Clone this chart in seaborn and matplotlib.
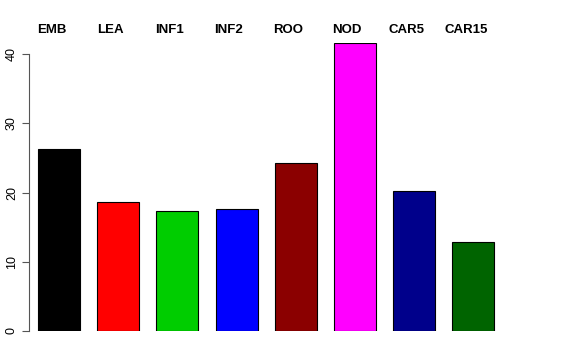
import pandas as pd
import numpy as np
import matplotlib
matplotlib.use('Agg')
import matplotlib.pyplot as plt
import matplotlib.transforms as mtransforms
import seaborn as sns

# datos
categories = ['EMB', 'LEA', 'INF1', 'INF2', 'ROO', 'NOD', 'CAR5', 'CAR15']
values = [26.3, 18.7, 17.4, 17.6, 24.2, 41.6, 20.2, 12.9]
colors = ['#000000', '#FF0000', '#00CD00', '#0000FF', '#8B0000', '#FF00FF', '#00008B', '#006400']
yticks = [0, 10, 20, 30, 40]

df = pd.DataFrame({'grupo': categories, 'valor': values})

sns.set_style('white')
plt.rcParams['font.family'] = ['Liberation Sans', 'DejaVu Sans']

W, H = 576, 360
fig = plt.figure(figsize=(W / 100, H / 100), dpi=100)
left, right, bottom, top = 29, 503, 29, 317
ax = fig.add_axes([left / W, bottom / H, (right - left) / W, (top - bottom) / H])

sns.barplot(data=df, x='grupo', y='valor', hue='grupo', palette=colors,
            legend=False, width=0.71, edgecolor='black', linewidth=0.8,
            saturation=1, ax=ax)

ax.set_xlim(-0.507, 7.5)
ax.set_ylim(0, 41.6)
ax.set_xlabel('')
ax.set_ylabel('')

# eje y al estilo R
for s in ['top', 'right', 'bottom']:
    ax.spines[s].set_visible(False)
ax.spines['left'].set_bounds(0, 40)
ax.spines['left'].set_color('#555555')
ax.set_yticks(yticks)
ax.set_yticklabels([str(t) for t in yticks], rotation=90, va='center', fontsize=9, color='black')
ax.tick_params(axis='y', length=5, width=0.8, color='#555555', pad=3, left=True)

# nombres arriba (un poco desplazados a la izquierda, como en el original)
ax.set_xticks([])
trans = mtransforms.blended_transform_factory(ax.transData, ax.transAxes)
for i, name in enumerate(categories):
    ax.text(i - 0.13, 1 + 13 / 288, name, transform=trans, ha='center', va='center',
            fontsize=9.5, fontweight='bold', color='black', clip_on=False)

fig.savefig('out.png', dpi=100)
